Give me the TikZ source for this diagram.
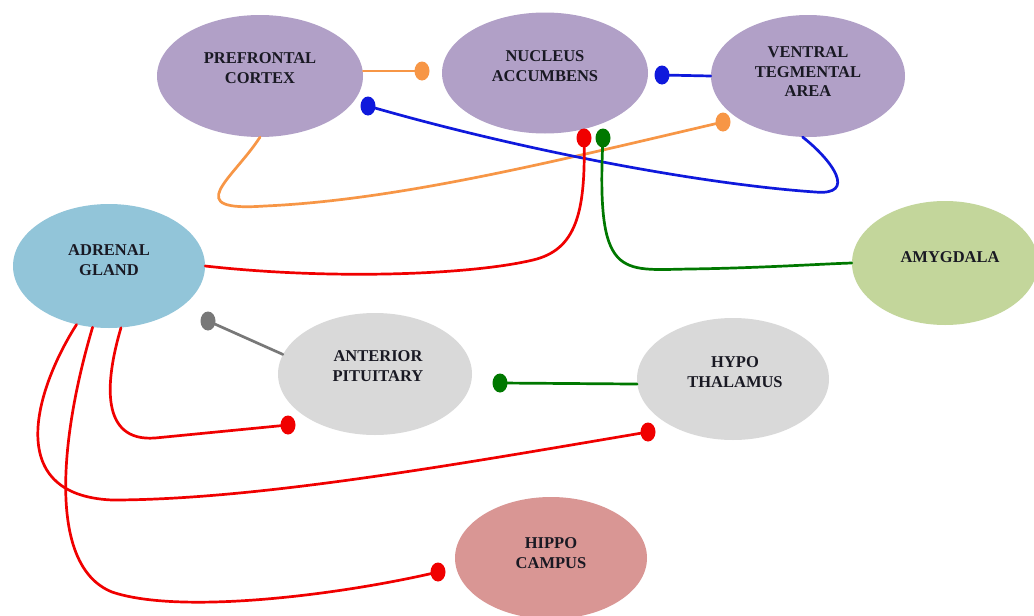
\documentclass[tikz,border=0pt]{standalone}
\usepackage{fontspec}
\setmainfont{Liberation Serif}
\usetikzlibrary{shapes.geometric}
\definecolor{purp}{RGB}{177,160,199}
\definecolor{adrb}{RGB}{146,197,217}
\definecolor{amyg}{RGB}{195,214,155}
\definecolor{grayf}{RGB}{217,217,217}
\definecolor{hipp}{RGB}{217,150,148}
\definecolor{orng}{RGB}{247,150,70}
\definecolor{blu}{RGB}{15,25,220}
\definecolor{rd}{RGB}{240,0,0}
\definecolor{grn}{RGB}{0,120,0}
\definecolor{gry}{RGB}{120,120,120}
\definecolor{txtc}{RGB}{25,25,35}
\tikzset{
  region/.style={ellipse, draw=none, inner sep=0pt},
  lbl/.style={font=\fontsize{16.5}{19.5}\selectfont\bfseries, text=txtc, align=center, inner sep=0pt},
  ball/.style={ellipse, draw=none, inner sep=0pt, minimum width=15pt, minimum height=19pt},
  conn/.style={line width=2.7pt, line cap=round},
}
\begin{document}
\begin{tikzpicture}[x=1pt,y=-1pt]
\useasboundingbox[fill=white] (0,0) rectangle (1034,616);
% regions
\node[region, fill=purp, minimum width=206pt, minimum height=122pt] (pfc) at (260,76) {};
\node[region, fill=purp, minimum width=206pt, minimum height=121pt] (nac) at (545,73) {};
\node[region, fill=purp, minimum width=194pt, minimum height=122pt] (vta) at (808,76) {};
\node[region, fill=adrb, minimum width=192pt, minimum height=124pt] (adr) at (109,266) {};
\node[region, fill=amyg, minimum width=186pt, minimum height=124pt] (amy) at (945,263) {};
\node[region, fill=grayf, minimum width=194pt, minimum height=122pt] (ap) at (375,374) {};
\node[region, fill=grayf, minimum width=192pt, minimum height=122pt] (ht) at (733,379) {};
\node[region, fill=hipp, minimum width=192pt, minimum height=122pt] (hip) at (551,558) {};
% labels
\node[lbl] (pfct) at ([yshift=8pt]pfc.center) {PREFRONTAL\\CORTEX};
\node[lbl] (nact) at ([yshift=7pt]nac.center) {NUCLEUS\\ACCUMBENS};
\node[lbl] (vtat) at ([yshift=4pt]vta.center) {VENTRAL\\TEGMENTAL\\AREA};
\node[lbl] (adrt) at ([yshift=6pt]adr.center) {ADRENAL\\GLAND};
\node[lbl] (amyt) at ([xshift=5pt,yshift=6pt]amy.center) {AMYGDALA};
\node[lbl] (apt) at ([xshift=3pt,yshift=8pt]ap.center) {ANTERIOR\\PITUITARY};
\node[lbl] (htt) at ([xshift=2pt,yshift=7pt]ht.center) {HYPO\\THALAMUS};
\node[lbl] (hipt) at ([yshift=5pt]hip.center) {HIPPO\\CAMPUS};
% end balls (positions)
\coordinate (pOr1) at (422,71);
\coordinate (pOr2) at (723,122);
\coordinate (pBl1) at (662,75);
\coordinate (pBl2) at (368,106);
\coordinate (pRn) at (584,138);
\coordinate (pGn) at (603,138);
\coordinate (pGr) at (208,321);
\coordinate (pGh) at (500,383);
\coordinate (pRa) at (288,425);
\coordinate (pRb) at (648,432);
\coordinate (pRc) at (438,572);
% connectors
\draw[conn, orng] (pOr1 -| pfc.east) -- (pOr1);
\draw[conn, orng] (pfc.south) .. controls (232,180) and (180,212) .. (265,206) .. controls (400,200) and (560,160) .. (pOr2);
\draw[conn, blu] (vta.west) -- (pBl1);
\draw[conn, blu] (vta.-95) .. controls (832,160) and (858,196) .. (815,192) .. controls (700,184) and (520,150) .. (pBl2);
\draw[conn, rd] (adr.east) .. controls (330,280) and (470,275) .. (533,260) .. controls (575,250) and (586,215) .. (pRn);
\draw[conn, grn] (pGn) .. controls (596,280) and (620,270) .. (690,269) .. controls (760,268) and (820,264) .. (amy.west);
\draw[conn, gry] (ap.168) -- (pGr);
\draw[conn, grn] (ht.183) -- (pGh);
\draw[conn, rd] (adr.-79) .. controls (105,382) and (100,442) .. (155,438) -- (pRa);
\draw[conn, rd] (adr.-119) .. controls (38,385) and (0,495) .. (112,500) .. controls (260,500) and (470,462) .. (pRb);
\draw[conn, rd] (adr.-105) .. controls (62,430) and (45,565) .. (112,592) .. controls (180,615) and (340,595) .. (pRc);
% balls
\node[ball, fill=orng] (bOr1) at (pOr1) {};
\node[ball, fill=orng] (bOr2) at (pOr2) {};
\node[ball, fill=blu] (bBl1) at (pBl1) {};
\node[ball, fill=blu] (bBl2) at (pBl2) {};
\node[ball, fill=rd] (bRn) at (pRn) {};
\node[ball, fill=grn] (bGn) at (pGn) {};
\node[ball, fill=gry] (bGr) at (pGr) {};
\node[ball, fill=grn] (bGh) at (pGh) {};
\node[ball, fill=rd] (bRa) at (pRa) {};
\node[ball, fill=rd] (bRb) at (pRb) {};
\node[ball, fill=rd] (bRc) at (pRc) {};
\end{tikzpicture}
\end{document}
